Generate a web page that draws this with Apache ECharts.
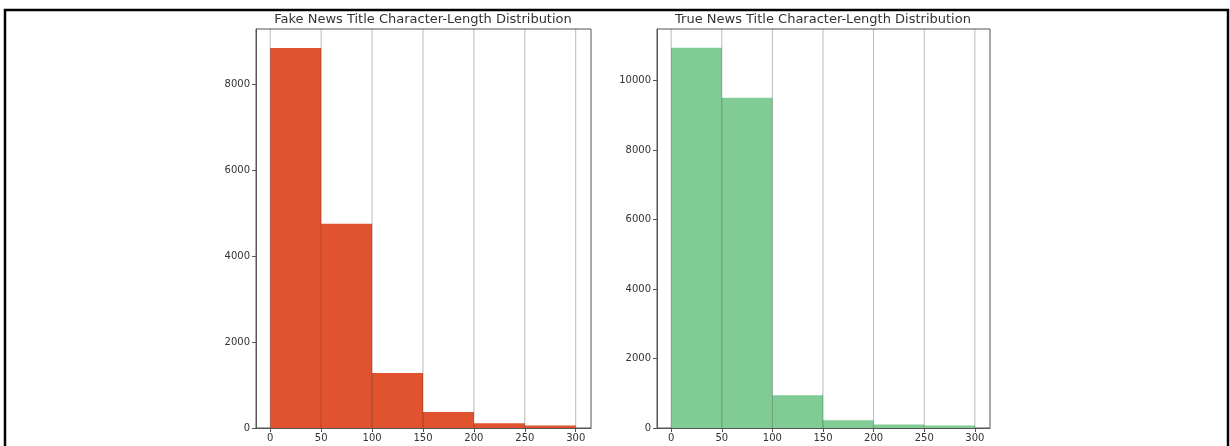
<!DOCTYPE html>
<html>
<head>
<meta charset="utf-8">
<title>News title length histograms</title>
<script src="https://cdn.jsdelivr.net/npm/echarts@6/dist/echarts.min.js"></script>
<style>
    html, body { margin: 0; padding: 0; background: #fff; }
    #chart { width: 1230px; height: 446px; }
</style>
</head>
<body>
<div id="chart"></div>
<script>
    // histogram bins (title length in characters)
    const binEdges = [0, 50, 100, 150, 200, 250, 300];
    const fakeCounts = [8840, 4750, 1280, 370, 110, 60];
    const trueCounts = [10940, 9500, 940, 220, 100, 70];
    const xTicks = [0, 50, 100, 150, 200, 250, 300];
    const fakeYTicks = [0, 2000, 4000, 6000, 8000];
    const trueYTicks = [0, 2000, 4000, 6000, 8000, 10000];
    const fakeTitle = 'Fake News Title Character-Length Distribution';
    const trueTitle = 'True News Title Character-Length Distribution';

    const FONT = 'DejaVu Sans';

    function toBins(counts) {
        return counts.map((c, i) => [binEdges[i], binEdges[i + 1], c]);
    }

    function renderBar(params, api) {
        let p0 = api.coord([api.value(0), 0]);
        let p1 = api.coord([api.value(1), api.value(2)]);
        return {
            type: 'rect',
            shape: { x: p0[0], y: p1[1], width: p1[0] - p0[0], height: p0[1] - p1[1] },
            style: { fill: api.visual('color') }
        };
    }

    // vertical grid lines, drawn over the bars like in the original
    function renderGridLine(params, api) {
        let x = api.coord([api.value(0), 0])[0];
        let cs = params.coordSys;
        return {
            type: 'line',
            shape: { x1: x, y1: cs.y, x2: x, y2: cs.y + cs.height },
            style: { stroke: 'rgba(0,0,0,0.28)', lineWidth: 1 }
        };
    }

    function xAxisOf(idx) {
        return {
            gridIndex: idx, type: 'value', min: -14, max: 315,
            axisLine: { show: true, onZero: false, lineStyle: { color: '#555' } },
            axisTick: { show: true, length: 4, customValues: xTicks, lineStyle: { color: '#555' } },
            axisLabel: {
                customValues: xTicks, color: '#333', fontFamily: FONT, fontSize: 10, margin: 5,
                formatter: v => String(v)
            },
            splitLine: { show: false }
        };
    }

    function yAxisOf(idx, max, ticks) {
        return {
            gridIndex: idx, type: 'value', min: 0, max: max,
            axisLine: { show: true, onZero: false, lineStyle: { color: '#555' } },
            axisTick: { show: true, length: 4, customValues: ticks, lineStyle: { color: '#555' } },
            axisLabel: {
                customValues: ticks, color: '#333', fontFamily: FONT, fontSize: 10, margin: 6,
                formatter: v => String(v)
            },
            splitLine: { show: false }
        };
    }

    const chart = echarts.init(document.getElementById('chart'), null, { renderer: 'canvas' });
    chart.setOption({
        animation: false,
        backgroundColor: '#fff',
        graphic: [
            {
                type: 'rect', silent: true, z: 100,
                shape: { x: 5, y: 10, width: 1223, height: 460 },
                style: { fill: 'none', stroke: '#000', lineWidth: 2.5 }
            },
            {
                type: 'text', x: 423, y: 20, silent: true,
                style: {
                    text: fakeTitle, font: '13px "DejaVu Sans"', fill: '#333',
                    textAlign: 'center', textVerticalAlign: 'middle'
                }
            },
            {
                type: 'text', x: 823, y: 20, silent: true,
                style: {
                    text: trueTitle, font: '13px "DejaVu Sans"', fill: '#333',
                    textAlign: 'center', textVerticalAlign: 'middle'
                }
            }
        ],
        grid: [
            { left: 256, width: 335, top: 29, bottom: 18, show: true, borderColor: '#555', borderWidth: 1 },
            { left: 657, width: 333, top: 29, bottom: 18, show: true, borderColor: '#555', borderWidth: 1 }
        ],
        xAxis: [xAxisOf(0), xAxisOf(1)],
        yAxis: [yAxisOf(0, 9280, fakeYTicks), yAxisOf(1, 11480, trueYTicks)],
        series: [
            {
                name: 'Fake', type: 'custom', xAxisIndex: 0, yAxisIndex: 0,
                renderItem: renderBar, itemStyle: { color: '#e1532f' },
                encode: { x: [0, 1], y: 2 }, data: toBins(fakeCounts), z: 2
            },
            {
                name: 'True', type: 'custom', xAxisIndex: 1, yAxisIndex: 1,
                renderItem: renderBar, itemStyle: { color: '#80cc94' },
                encode: { x: [0, 1], y: 2 }, data: toBins(trueCounts), z: 2
            },
            {
                type: 'custom', xAxisIndex: 0, yAxisIndex: 0, silent: true, z: 5,
                renderItem: renderGridLine, encode: { x: 0, y: 1 },
                data: xTicks.map(v => [v, 0])
            },
            {
                type: 'custom', xAxisIndex: 1, yAxisIndex: 1, silent: true, z: 5,
                renderItem: renderGridLine, encode: { x: 0, y: 1 },
                data: xTicks.map(v => [v, 0])
            }
        ]
    });
</script>
</body>
</html>
